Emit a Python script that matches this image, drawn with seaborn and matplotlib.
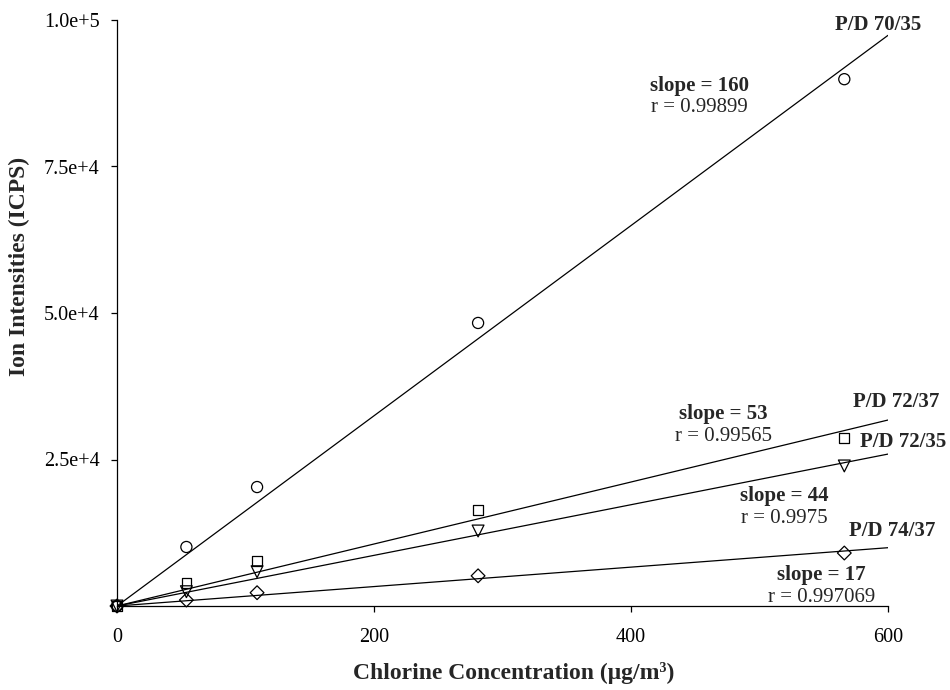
import numpy as np
import pandas as pd
import matplotlib
matplotlib.use("Agg")
import matplotlib.pyplot as plt
import seaborn as sns

# ---- data ----
conc = [0, 54, 109, 281, 566]
pd_7035 = [0, 10070, 20300, 48300, 89900]
pd_7237 = [0, 3980, 7680, 16400, 28700]
pd_7235 = [0, 2440, 5850, 12800, 23900]
pd_7437 = [0, 1020, 2270, 5150, 9040]
series_names = ["P/D 70/35", "P/D 72/37", "P/D 72/35", "P/D 74/37"]
slope_labels = ["slope = 160", "slope = 53", "slope = 44", "slope = 17"]
r_labels = ["r = 0.99899", "r = 0.99565", "r = 0.9975", "r = 0.997069"]
xticks = [0, 200, 400, 600]
yticks = [25000, 50000, 75000, 100000]
ytick_labels = ["2.5e+4", "5.0e+4", "7.5e+4", "1.0e+5"]

sns.set_style("ticks")
plt.rcParams["font.family"] = ["Liberation Serif", "DejaVu Serif"]
plt.rcParams["mathtext.fontset"] = "stix"

fig = plt.figure(figsize=(9.5, 6.9), dpi=100)
ax = fig.add_axes([117/950, 84/690, 771/950, 586/690])

all_y = [pd_7035, pd_7237, pd_7235, pd_7437]
markers = ["o", "s", "v", "D"]
msizes = [8.0, 7.0, 8.5, 7.0]

x_arr = np.array(conc, dtype=float)
xline = np.array([0.0, 600.0])
for name, ys, mk, ms in zip(series_names, all_y, markers, msizes):
    y_arr = np.array(ys, dtype=float)
    slope = np.sum(x_arr * y_arr) / np.sum(x_arr ** 2)
    line_df = pd.DataFrame({"x": xline, "y": slope * xline})
    sns.lineplot(data=line_df, x="x", y="y", ax=ax, color="black",
                 linewidth=0.9, zorder=2)
    pt_df = pd.DataFrame({"x": conc, "y": ys})
    sns.scatterplot(data=pt_df, x="x", y="y", ax=ax, marker=mk, s=ms ** 2,
                    facecolor="none", edgecolor="black", linewidth=0.9,
                    zorder=3, clip_on=False)

ax.set_xlim(0, 600)
ax.set_ylim(0, 100000)
ax.set_xticks(xticks)
ax.set_xticklabels([str(t) for t in xticks])
ax.set_yticks(yticks)
ax.set_yticklabels(ytick_labels)
sns.despine(ax=ax)
for sp in ["left", "bottom"]:
    ax.spines[sp].set_linewidth(0.9)
    ax.spines[sp].set_color("black")
ax.tick_params(axis="both", direction="out", length=4.5, width=0.9,
               colors="black", labelsize=14.5)
ax.tick_params(axis="x", pad=11)
ax.tick_params(axis="y", pad=8)

ax.set_xlabel("Chlorine Concentration (μg/m³)", fontsize=17,
              fontweight="bold", va="center", ha="center")
ax.set_ylabel("Ion Intensities (ICPS)", fontsize=17, fontweight="bold",
              va="center", ha="center")
ax.xaxis.set_label_coords(0.515, -0.114)
ax.yaxis.set_label_coords(-0.126, 0.580)

fs = 15
name_pos = [(0.987, 0.991), (1.010, 0.348), (1.019, 0.280), (1.005, 0.128)]
slope_pos = [(0.755, 0.887), (0.787, 0.328), (0.866, 0.188), (0.914, 0.053)]
r_pos = [(0.755, 0.850), (0.787, 0.289), (0.866, 0.150), (0.914, 0.014)]
for i in range(4):
    ax.text(*name_pos[i], series_names[i], transform=ax.transAxes,
            ha="center", va="center", fontsize=fs, fontweight="bold",
            clip_on=False)
    ax.text(*slope_pos[i], slope_labels[i], transform=ax.transAxes,
            ha="center", va="center", fontsize=fs, fontweight="bold",
            clip_on=False)
    ax.text(*r_pos[i], r_labels[i], transform=ax.transAxes,
            ha="center", va="center", fontsize=fs, clip_on=False)

fig.savefig("out.png", dpi=100)
